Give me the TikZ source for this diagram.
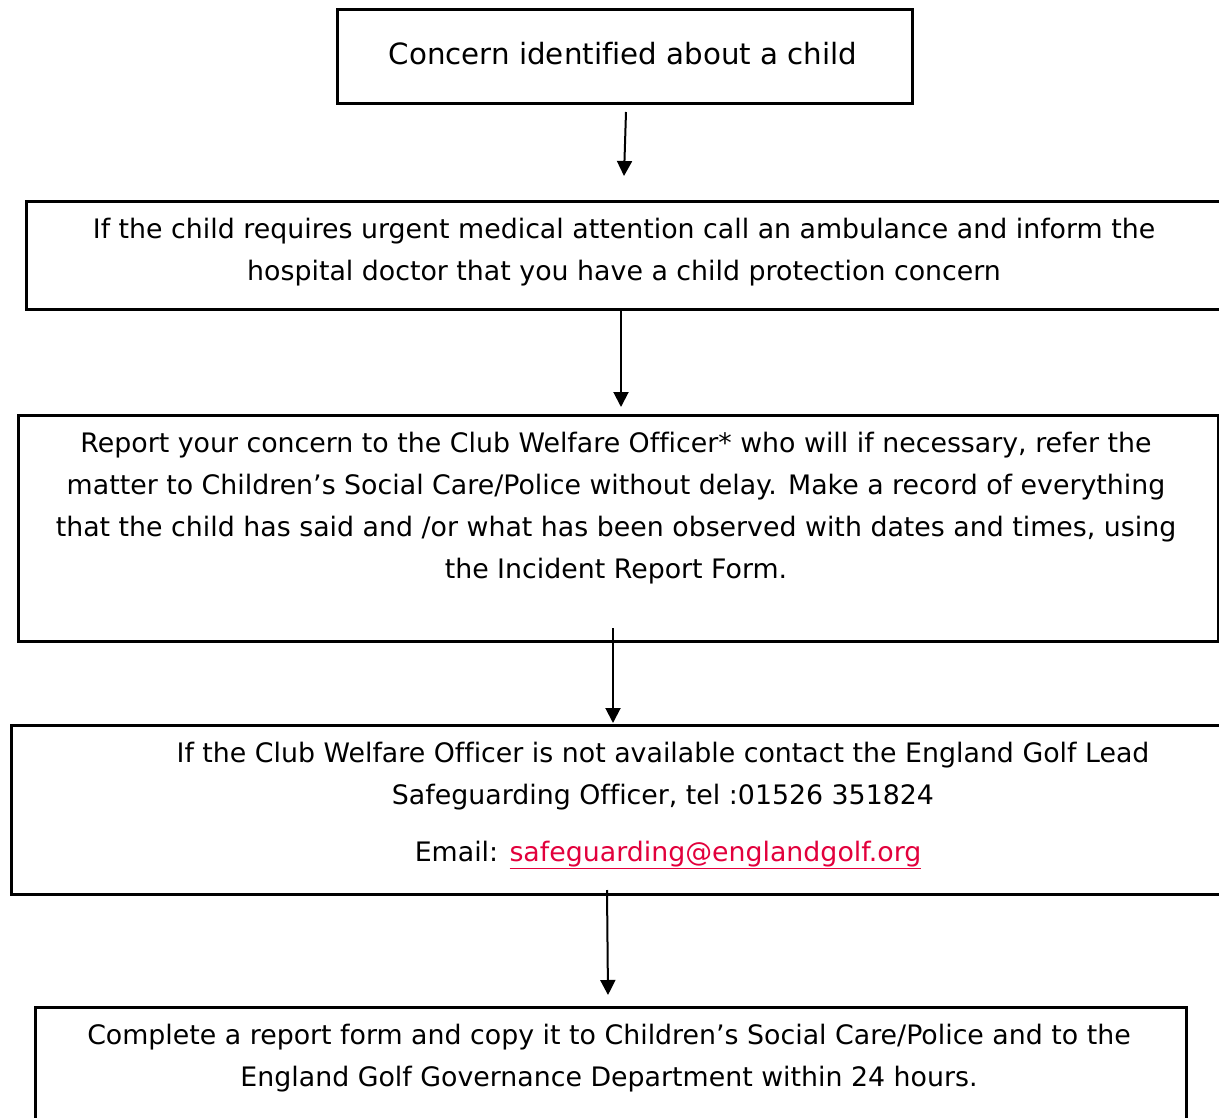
\documentclass[tikz,border=0pt]{standalone}
\usepackage{fontspec}
\setmainfont{DejaVu Sans}[Ligatures=NoCommon]
\usetikzlibrary{arrows.meta}
\definecolor{linkred}{RGB}{226,0,60}
\tikzset{
  box/.style={draw=black, line width=3pt, inner sep=0pt, anchor=north west},
  txt/.style={align=center, inner sep=0pt, font=\fontsize{26.8}{42}\selectfont},
  bigtxt/.style={align=center, inner sep=0pt, font=\fontsize{29.3}{42}\selectfont},
  arr/.style={line width=2pt, -{Triangle[length=15pt,width=15pt]}}
}
\begin{document}
\begin{tikzpicture}[x=1pt,y=-1pt]
\useasboundingbox (0,0) rectangle (1219,1118);
% boxes
\node[box, minimum width=575pt, minimum height=94pt] (b1) at (336,8) {};
\node[box, minimum width=1210pt, minimum height=108pt] (b2) at (25,200) {};
\node[box, minimum width=1200pt, minimum height=226pt] (b3) at (17,414) {};
\node[box, minimum width=1220pt, minimum height=169pt] (b4) at (10,724) {};
\node[box, minimum width=1151pt, minimum height=130pt] (b5) at (34,1006) {};
% texts
\node[bigtxt] (t1) at (623,54) {Concern identified about a child};
\node[txt] (t2) at (624,252) {If the child requires urgent medical attention call an ambulance and inform the\\hospital doctor that you have a child protection concern};
\node[txt] (t3) at (616,508) {Report your concern to the Club Welfare Officer* who will if necessary, refer the\\matter to Children’s Social Care/Police without delay. Make a record of everything\\that the child has said and /or what has been observed with dates and times, using\\the Incident Report Form.};
\node[txt] (t4) at (663,776) {If the Club Welfare Officer is not available contact the England Golf Lead\\Safeguarding Officer, tel :01526 351824};
\node[txt] (t4b) at (668,855) {Email: \textcolor{linkred}{\underline{safeguarding@englandgolf.org}}};
\node[txt] (t5) at (609,1058) {Complete a report form and copy it to Children’s Social Care/Police and to the\\England Golf Governance Department within 24 hours.};
% arrows
\coordinate (a1s) at (626,112); \coordinate (a1e) at (624,176);
\coordinate (a2s) at (621,310); \coordinate (a2e) at (621,407);
\coordinate (a3s) at (613,628); \coordinate (a3e) at (613,723);
\coordinate (a4s) at (607,890); \coordinate (a4e) at (608,995);
\draw[arr] (a1s) -- (a1e);
\draw[arr] (a2s) -- (a2e);
\draw[arr] (a3s) -- (a3e);
\draw[arr] (a4s) -- (a4e);
\end{tikzpicture}
\end{document}
